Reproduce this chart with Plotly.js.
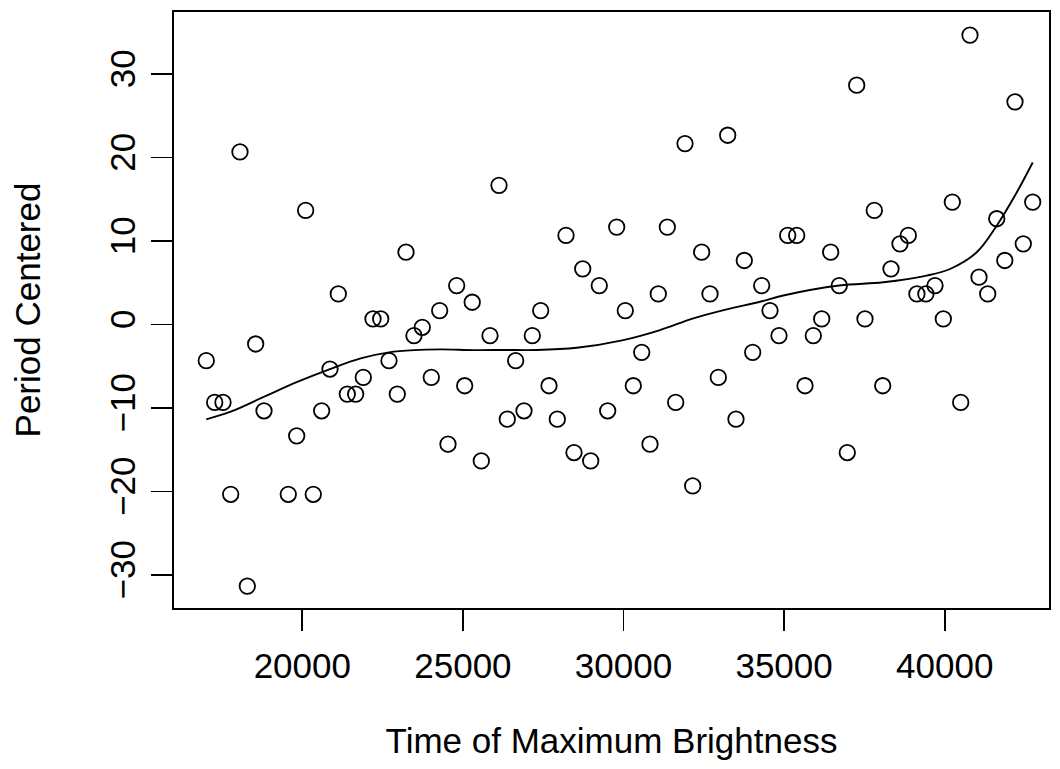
<!DOCTYPE html>
<html>
<head>
<meta charset="utf-8">
<script src="https://cdn.plot.ly/plotly-3.0.1.min.js"></script>
<style>
  html, body { margin: 0; padding: 0; background: #ffffff; }
  #chart { width: 1060px; height: 769px; }
</style>
</head>
<body>
<div id="chart"></div>
<script>
// Time of maximum brightness (x) for each observed maximum
const timeMax = [
  17011, 17273, 17531, 17771, 18060, 18288, 18549, 18808, 19564, 19826,
  20105, 20342, 20603, 20862, 21121, 21401, 21662, 21899, 22201, 22441,
  22699, 22958, 23229, 23477, 23736, 24016, 24277, 24536, 24807, 25056,
  25290, 25573, 25844, 26124, 26382, 26643, 26902, 27161, 27422, 27681,
  27939, 28210, 28459, 28730, 28979, 29246, 29508, 29788, 30056, 30305,
  30567, 30825, 31083, 31364, 31625, 31915, 32154, 32434, 32693, 32952,
  33244, 33502, 33761, 34022, 34302, 34561, 34841, 35112, 35392, 35651,
  35909, 36171, 36450, 36718, 36967, 37260, 37518, 37808, 38070, 38328,
  38608, 38867, 39134, 39414, 39698, 39957, 40237, 40498, 40787, 41068,
  41339, 41620, 41871, 42188, 42447, 42740
];

// Period, centered on its mean
const periodCentered = [
  -4.33, -9.33, -9.33, -20.33, 20.67, -31.33, -2.33, -10.33, -20.33, -13.33,
  13.67, -20.33, -10.33, -5.33, 3.67, -8.33, -8.33, -6.33, 0.67, 0.67,
  -4.33, -8.33, 8.67, -1.33, -0.33, -6.33, 1.67, -14.33, 4.67, -7.33,
  2.67, -16.33, -1.33, 16.67, -11.33, -4.33, -10.33, -1.33, 1.67, -7.33,
  -11.33, 10.67, -15.33, 6.67, -16.33, 4.67, -10.33, 11.67, 1.67, -7.33,
  -3.33, -14.33, 3.67, 11.67, -9.33, 21.67, -19.33, 8.67, 3.67, -6.33,
  22.67, -11.33, 7.67, -3.33, 4.67, 1.67, -1.33, 10.67, 10.67, -7.33,
  -1.33, 0.67, 8.67, 4.67, -15.33, 28.67, 0.67, 13.67, -7.33, 6.67,
  9.67, 10.67, 3.67, 3.67, 4.67, 0.67, 14.67, -9.33, 34.67, 5.67,
  3.67, 12.67, 7.67, 26.67, 9.67, 14.67
];

// Smooth fitted curve
const smoothX = [
  17011, 17771, 18808, 19844, 20862, 21818, 22699, 23477, 24308, 25345,
  26300, 27297, 28543, 29994, 31136, 32173, 33213, 34250, 34975, 36718,
  38088, 39440, 40165, 40996, 41619, 42241, 42740
];
const smoothY = [
  -11.35, -10.44, -8.65, -6.87, -5.33, -4.05, -3.33, -3.06, -2.98, -3.06,
  -3.05, -3.05, -2.78, -1.86, -0.66, 0.74, 1.82, 2.73, 3.48, 4.67,
  5.06, 5.86, 6.65, 8.65, 11.84, 15.81, 19.4
];

const xTicks = [20000, 25000, 30000, 35000, 40000];
const yTicks = [-30, -20, -10, 0, 10, 20, 30];

const FONT = "'Liberation Sans', Arial, Helvetica, sans-serif";
const FS = 35;

const traces = [
  {
    type: 'scatter',
    mode: 'markers',
    x: timeMax,
    y: periodCentered,
    marker: {
      symbol: 'circle-open',
      size: 15.5,
      color: '#000000',
      line: { color: '#000000', width: 1.8 }
    },
    hoverinfo: 'x+y'
  },
  {
    type: 'scatter',
    mode: 'lines',
    x: smoothX,
    y: smoothY,
    line: { color: '#000000', width: 1.9, shape: 'spline', smoothing: 1 },
    hoverinfo: 'skip'
  }
];

const layout = {
  width: 1060,
  height: 769,
  paper_bgcolor: '#ffffff',
  plot_bgcolor: '#ffffff',
  showlegend: false,
  margin: { l: 174, r: 11, t: 12, b: 161, pad: 0 },
  font: { family: FONT, size: FS, color: '#000000' },
  xaxis: {
    range: [16006, 43247],
    tickmode: 'array',
    tickvals: xTicks,
    ticktext: xTicks.map(String),
    ticks: 'outside',
    ticklen: 21,
    tickwidth: 1.6,
    tickcolor: '#000000',
    ticklabelstandoff: 5,
    showgrid: false,
    zeroline: false,
    showline: true,
    mirror: true,
    linecolor: '#000000',
    linewidth: 1.8,
    tickfont: { family: FONT, size: FS, color: '#000000' },
    title: {
      text: 'Time of Maximum Brightness',
      font: { family: FONT, size: FS, color: '#000000' },
      standoff: 45
    }
  },
  yaxis: {
    range: [-33.95, 37.43],
    tickmode: 'array',
    tickvals: yTicks,
    ticktext: yTicks.map(v => v < 0 ? '\u2212' + Math.abs(v) : String(v)),
    tickangle: -90,
    ticks: 'outside',
    ticklen: 21,
    tickwidth: 1.6,
    tickcolor: '#000000',
    ticklabelstandoff: 2,
    showgrid: false,
    zeroline: false,
    showline: true,
    mirror: true,
    linecolor: '#000000',
    linewidth: 1.8,
    tickfont: { family: FONT, size: FS, color: '#000000' },
    title: {
      text: 'Period Centered',
      font: { family: FONT, size: FS, color: '#000000' },
      standoff: 52
    }
  }
};

Plotly.newPlot('chart', traces, layout, { displayModeBar: false, staticPlot: true });
</script>
</body>
</html>
